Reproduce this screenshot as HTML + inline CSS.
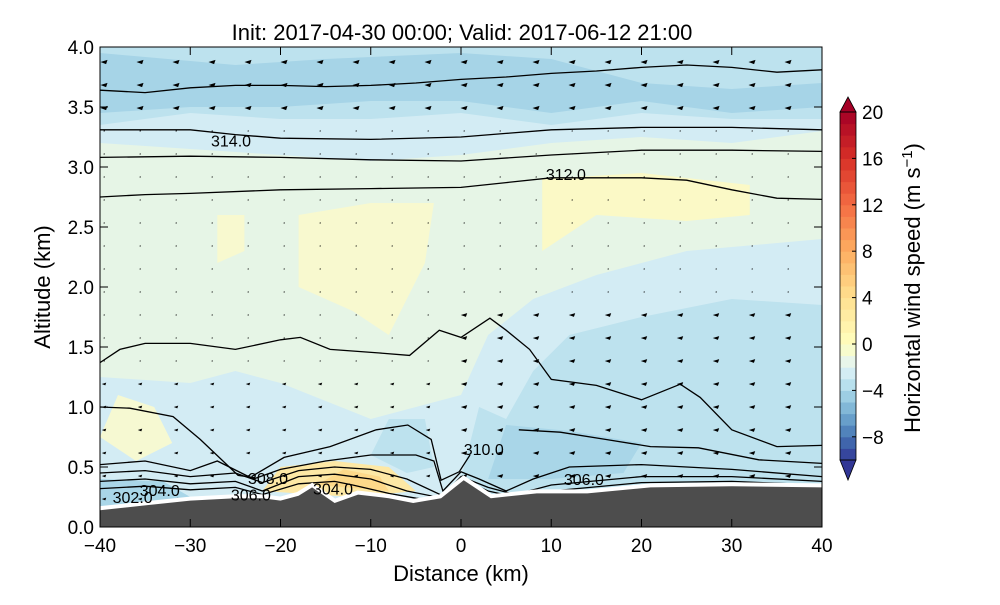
<!DOCTYPE html>
<html><head><meta charset="utf-8"><style>
body{margin:0;background:#fff;}
svg text{font-family:"Liberation Sans",sans-serif;}
</style></head><body>
<svg id="c" width="1000" height="600" xmlns="http://www.w3.org/2000/svg">
<defs><clipPath id="pc"><rect x="100" y="47" width="722" height="480"/></clipPath></defs>
<g id="plot" clip-path="url(#pc)"></g>
<g id="over"></g>
</svg>
<script>
const terrain=[[-40,0.14],[-35,0.18],[-30,0.22],[-25,0.24],[-22,0.24],[-20,0.22],[-18,0.26],[-16.5,0.33],[-14,0.2],[-11.4,0.27],[-8,0.24],[-5.3,0.2],[-2.2,0.24],[0.3,0.39],[3.3,0.24],[8.4,0.28],[14,0.28],[21,0.33],[30,0.34],[40,0.33]];
const fills=[
 {c:"#d3ecf4",p:[[-40,4.05],[40,4.05],[40,3.3],[30,3.2],[20,3.25],[10,3.2],[0,3.1],[-10,3.05],[-20,3.1],[-30,3.15],[-40,3.2]]},
 {c:"#bde2ee",p:[[-40,4.05],[40,4.05],[40,3.4],[30,3.4],[20,3.45],[10,3.35],[0,3.45],[-10,3.4],[-20,3.4],[-30,3.45],[-40,3.35]]},
 {c:"#a6d4e7",p:[[-40,3.95],[-25,3.85],[-15,3.9],[0,3.95],[10,3.9],[20,3.7],[30,3.65],[40,3.7],[40,3.5],[30,3.45],[20,3.55],[10,3.45],[0,3.55],[-10,3.55],[-20,3.5],[-30,3.5],[-40,3.45]]},
 {c:"#fbf9c6",p:[[9,2.9],[20,2.95],[32,2.85],[32,2.6],[25,2.55],[15,2.6],[9,2.3]]},
 {c:"#f8f9cf",p:[[-18,2.6],[-10,2.7],[-3,2.7],[-4,2.2],[-8,1.6],[-12,1.8],[-18,2.0]]},
 {c:"#f8f9cf",p:[[-27,2.6],[-24,2.6],[-24,2.3],[-27,2.2]]},
 {c:"#d3ecf4",p:[[-40,1.25],[-30,1.2],[-25,1.3],[-20,1.2],[-10,0.9],[-5,1.0],[0,1.1],[3,1.6],[8,1.9],[15,2.1],[25,2.3],[40,2.4],[40,0],[-40,0]]},
 {c:"#bde2ee",p:[[0,0.4],[2,1.0],[5,0.9],[8,1.3],[12,1.6],[20,1.75],[30,1.9],[40,1.85],[40,0],[0,0]]},
 {c:"#bde2ee",p:[[-10,0.6],[-8,0.9],[-4,0.9],[-3,0.5],[-6,0.45]]},
 {c:"#a9d6e8",p:[[3,0.4],[5,0.85],[12,0.8],[20,0.7],[18,0.45],[10,0.4]]},
 {c:"#f6f9d2",p:[[-40,0.75],[-38,1.1],[-34,1.0],[-32,0.7],[-36,0.55]]},
 {c:"#fde8a5",p:[[-22,0.3],[-20,0.5],[-14,0.55],[-8,0.5],[-5,0.3],[-12,0.25]]},
 {c:"#fdd98a",p:[[-16,0.35],[-13,0.48],[-9,0.42],[-8,0.3]]},
 {c:"#a9d6e8",p:[[-40,0.15],[-40,0.4],[-33,0.38],[-30,0.25]]}
];
const lines=[
 [[-40,3.64],[-35,3.62],[-30,3.66],[-25,3.68],[-20,3.68],[-15,3.67],[-10,3.68],[-5,3.7],[0,3.73],[5,3.75],[10,3.78],[15,3.8],[20,3.83],[25,3.85],[30,3.83],[35,3.79],[40,3.81]],
 [[-40,3.31],[-30,3.31],[-25,3.27],[-20,3.24],[-10,3.23],[0,3.25],[5,3.28],[10,3.31],[20,3.33],[30,3.33],[40,3.31]],
 [[-40,3.08],[-30,3.09],[-20,3.08],[-10,3.06],[0,3.05],[10,3.1],[20,3.14],[30,3.14],[40,3.13]],
 [[-40,2.75],[-35,2.77],[-30,2.78],[-20,2.81],[-10,2.82],[0,2.83],[5,2.87],[10,2.91],[20,2.91],[25,2.89],[30,2.81],[35,2.74],[40,2.73]],
 [[-40,1.37],[-37.8,1.48],[-35,1.53],[-30,1.53],[-25,1.48],[-20,1.56],[-17.8,1.58],[-14.5,1.48],[-9,1.45],[-5.7,1.43],[-2.4,1.64],[0,1.58],[3.2,1.74],[5,1.64],[7.6,1.48],[10,1.23],[15,1.18],[20,1.06],[24.3,1.19],[26.5,1.08],[30,0.81],[35,0.67],[40,0.68]],
 [[-40,1.0],[-36.7,0.99],[-31.9,0.92],[-28.9,0.73],[-24.7,0.43],[-22.8,0.41]],
 [[-23.2,0.42],[-19.6,0.58],[-14.5,0.67],[-9.4,0.81],[-5.9,0.85],[-3.3,0.73],[-2.2,0.39],[-0.2,0.46],[1,0.6]],
 [[6.4,0.81],[11,0.79],[16,0.73],[21,0.67],[26.3,0.66],[33,0.56],[40,0.53]],
 [[-40,0.52],[-35,0.55],[-30,0.47],[-27,0.55],[-23,0.40],[-20,0.48],[-15,0.55],[-10,0.6],[-5,0.6],[-3,0.55],[-2,0.3],[0,0.46],[2,0.4],[5,0.3],[8,0.4],[12,0.5],[20,0.52],[30,0.48],[40,0.42]],
 [[-40,0.45],[-35,0.47],[-30,0.42],[-25,0.45],[-22,0.37],[-18,0.47],[-14,0.5],[-10,0.48],[-6,0.40],[-2,0.26],[0,0.42],[3,0.33],[6,0.27],[10,0.35],[20,0.42],[30,0.42],[40,0.38]],
 [[-40,0.38],[-35,0.4],[-30,0.36],[-25,0.38],[-22,0.3],[-18,0.42],[-14,0.44],[-10,0.40],[-6,0.3],[-2,0.24],[0,0.40],[3,0.30],[6,0.25],[10,0.3],[20,0.37],[30,0.38],[40,0.35]],
 [[-40,0.32],[-35,0.34],[-30,0.31],[-25,0.33],[-22,0.27],[-18,0.36],[-14,0.38],[-12,0.35],[-8,0.28],[-5,0.24],[-2,0.21],[0,0.37],[3,0.27],[6,0.24],[10,0.27],[20,0.33],[30,0.34],[40,0.33]]
];
const labels=[["314.0",-27.7,3.17],["312.0",9.4,2.89],["310.0",0.3,0.6],["306.0",11.4,0.35],["308.0",-23.6,0.36],["306.0",-25.5,0.22],["304.0",-16.4,0.27],["304.0",-35.6,0.26],["302.0",-38.6,0.2]];
const xTicks=[-40,-30,-20,-10,0,10,20,30,40];
const yTicks=[0,0.5,1,1.5,2,2.5,3,3.5,4];
const cbTicks=[20,16,12,8,4,0,-4,-8];
const cbAnchors=[[-10,"#313695"],[-8,"#4575b4"],[-6,"#74add1"],[-4,"#abd9e9"],[-2,"#e0f3f8"],[0,"#ffffbf"],[4,"#fee090"],[8,"#fdae61"],[12,"#f46d43"],[16,"#d73027"],[20,"#a50026"]];

const NS="http://www.w3.org/2000/svg";
const X=d=>100+(d+40)*722/80, Y=a=>527-a*120;
const CY=v=>344-v*(344-112)/20;
function mk(parent,tag,attrs){const e=document.createElementNS(NS,tag);for(const k in attrs)e.setAttribute(k,attrs[k]);parent.appendChild(e);return e;}
const plot=document.getElementById('plot'), over=document.getElementById('over');
const pts=p=>p.map(q=>X(q[0]).toFixed(1)+","+Y(q[1]).toFixed(1)).join(" ");
let bg=mk(plot,'rect',{x:100,y:47,width:722,height:480,fill:"#e6f5e6"});


fills.forEach((f,i)=>{const e=mk(plot,'polygon',{points:pts(f.p),fill:f.c});

});
for(let y=62;y<520;y+=23){for(let x=104;x<822;x+=36){
 const a=(527-y)/120, d=(x-100)/9.025-40;
 let s=1; if(a>3.3)s=3.5; else if(a<1.8&&d>0)s=3.2; else if(a<1.2)s=2.2;
 const e=mk(plot,'polygon',{points:`${x-s},${y} ${x+s},${y-s*0.6} ${x+s*0.6},${y+s*0.6}`,fill:"#000"});
 
 
}}
lines.forEach((l,i)=>{const e=mk(plot,'polyline',{points:pts(l),fill:"none",stroke:"#000","stroke-width":1.3});

});
const tp=pts(terrain);
let wl=mk(plot,'polyline',{points:tp,fill:"none",stroke:"#fff","stroke-width":8});


let gr=mk(plot,'polygon',{points:tp+` ${X(40)},${Y(-0.1)} ${X(-40)},${Y(-0.1)}`,fill:"#4d4d4d"});


labels.forEach(l=>{const e=mk(plot,'text',{x:X(l[1]),y:Y(l[2]),"font-size":16,fill:"#000"});e.textContent=l[0];

});
let fr=mk(over,'rect',{x:100,y:47,width:722,height:480,fill:"none",stroke:"#000","stroke-width":1});


xTicks.forEach(t=>{const x=X(t);mk(over,'line',{x1:x,x2:x,y1:527,y2:519,stroke:"#000"});mk(over,'line',{x1:x,x2:x,y1:47,y2:55,stroke:"#000"});
const e=mk(over,'text',{x:x,y:552,"font-size":19,"text-anchor":"middle"});e.textContent=(t<0?"\u2212":"")+Math.abs(t);

});
yTicks.forEach(t=>{const y=Y(t);mk(over,'line',{x1:100,x2:108,y1:y,y2:y,stroke:"#000"});mk(over,'line',{x1:822,x2:814,y1:y,y2:y,stroke:"#000"});
const e=mk(over,'text',{x:94,y:y+7,"font-size":19,"text-anchor":"end"});e.textContent=t.toFixed(1);

});
let t1=mk(over,'text',{x:462,y:40,"font-size":22,"text-anchor":"middle"});t1.textContent="Init: 2017-04-30 00:00; Valid: 2017-06-12 21:00";


let t2=mk(over,'text',{x:461,y:581,"font-size":22,"text-anchor":"middle"});t2.textContent="Distance (km)";


let t3=mk(over,'text',{x:0,y:0,"font-size":22,"text-anchor":"middle",transform:"translate(50,287) rotate(-90)"});t3.textContent="Altitude (km)";


function hex(h){return [1,3,5].map(i=>parseInt(h.substr(i,2),16));}
function cmap(v){for(let i=0;i<cbAnchors.length-1;i++){const[a,ca]=cbAnchors[i],[b,cb]=cbAnchors[i+1];if(v<=b){const t=(v-a)/(b-a),A=hex(ca),B=hex(cb);return `rgb(${A.map((x,j)=>Math.round(x+(B[j]-x)*t)).join(",")})`;}}return cbAnchors[cbAnchors.length-1][1];}
for(let v=-10;v<20;v++){const e=mk(over,'rect',{x:840,y:CY(v+1),width:16,height:CY(v)-CY(v+1)+0.5,fill:cmap(v+0.5)});

}
let up=mk(over,'polygon',{points:`840,${CY(20)} 856,${CY(20)} 848,97`,fill:"#a50026",stroke:"#000","stroke-width":0.8});


let dn=mk(over,'polygon',{points:`840,${CY(-10)} 856,${CY(-10)} 848,480`,fill:"#313695",stroke:"#000","stroke-width":0.8});


mk(over,'rect',{x:840,y:CY(20),width:16,height:CY(-10)-CY(20),fill:"none",stroke:"#000","stroke-width":0.8});
cbTicks.forEach(t=>{const y=CY(t);mk(over,'line',{x1:852,x2:856,y1:y,y2:y,stroke:"#000"});
const e=mk(over,'text',{x:862,y:y+7,"font-size":19});e.textContent=(t<0?"\u2212":"")+Math.abs(t);

});
let t4=mk(over,'text',{x:0,y:0,"font-size":22,"text-anchor":"middle",transform:"translate(920,288) rotate(-90)"});
t4.innerHTML='Horizontal wind speed (m s<tspan dy="-8" font-size="15">\u22121</tspan><tspan dy="8">)</tspan>';


</script>
</body></html>
